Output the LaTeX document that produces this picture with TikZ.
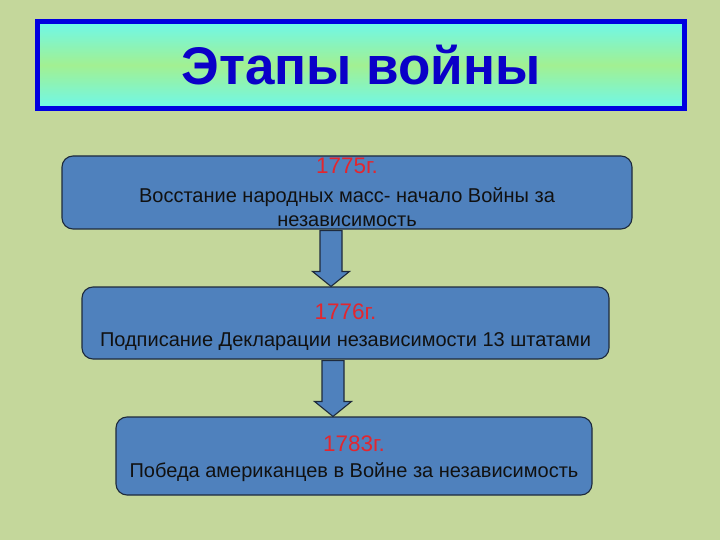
\documentclass[tikz,border=0pt]{standalone}
\usepackage{fontspec}
\setmainfont{Liberation Sans}
\usetikzlibrary{calc}
\definecolor{bg}{HTML}{C4D79B}
\definecolor{titleblue}{HTML}{0000E0}
\definecolor{titletext}{HTML}{0A00C8}
\definecolor{cyanish}{HTML}{6EF8EA}
\definecolor{greenish}{HTML}{A2F092}
\definecolor{boxfill}{HTML}{4F81BD}
\definecolor{boxline}{HTML}{1E2A3C}
\definecolor{yearred}{HTML}{E3262E}
\definecolor{bodytext}{HTML}{111111}
\tikzset{
  titlebox/.style={draw=titleblue, line width=5pt, top color=cyanish, bottom color=cyanish, middle color=greenish,
    minimum width=647pt, minimum height=87pt, inner sep=0pt, text=titletext,
    font=\fontsize{53}{60}\selectfont\bfseries},
  stagebox/.style={draw=boxline, line width=1.1pt, fill=boxfill, rounded corners=11pt,
    inner sep=0pt, align=center, text=bodytext, font=\fontsize{20}{24}\selectfont},
  downarrow/.style={draw=boxline, line width=1.1pt, fill=boxfill, line join=miter},
}
\newcommand{\yr}[1]{{\color{yearred}\fontsize{22.5}{25}\selectfont #1}}
\begin{document}
\begin{tikzpicture}[x=1pt,y=-1pt]
\fill[bg] (0,0) rectangle (720,540);
\useasboundingbox (0,0) rectangle (720,540);
\node[titlebox] (title) at (361,65) {Этапы войны};
\node[stagebox, minimum width=570pt, minimum height=73pt] (b1) at (347,192.5)
  {\yr{1775г.}\\[5pt]Восстание народных масс- начало Войны за\\независимость};
\node[stagebox, minimum width=527pt, minimum height=72pt] (b2) at (345.5,323)
  {\rule{0pt}{24pt}\yr{1776г.}\\[3pt]Подписание Декларации независимости 13 штатами};
\node[stagebox, minimum width=476pt, minimum height=78pt] (b3) at (354,456)
  {\rule{0pt}{21pt}\yr{1783г.}\\[2pt]Победа американцев в Войне за независимость};
\coordinate (ax1) at (331,0);
\coordinate (ax2) at (333,0);
\coordinate (a1s) at (ax1 |- b1.south);
\coordinate (a1e) at (ax1 |- b2.north);
\coordinate (a2s) at (ax2 |- b2.south);
\coordinate (a2e) at (ax2 |- b3.north);
\draw[downarrow] ($(a1s)+(-11,1)$) -- ($(a1e)+(-11,-15)$) -- ($(a1e)+(-18.5,-15)$) -- (a1e)
  -- ($(a1e)+(18.5,-15)$) -- ($(a1e)+(11,-15)$) -- ($(a1s)+(11,1)$) -- cycle;
\draw[downarrow] ($(a2s)+(-11,1)$) -- ($(a2e)+(-11,-15)$) -- ($(a2e)+(-18.5,-15)$) -- (a2e)
  -- ($(a2e)+(18.5,-15)$) -- ($(a2e)+(11,-15)$) -- ($(a2s)+(11,1)$) -- cycle;
\end{tikzpicture}
\end{document}
